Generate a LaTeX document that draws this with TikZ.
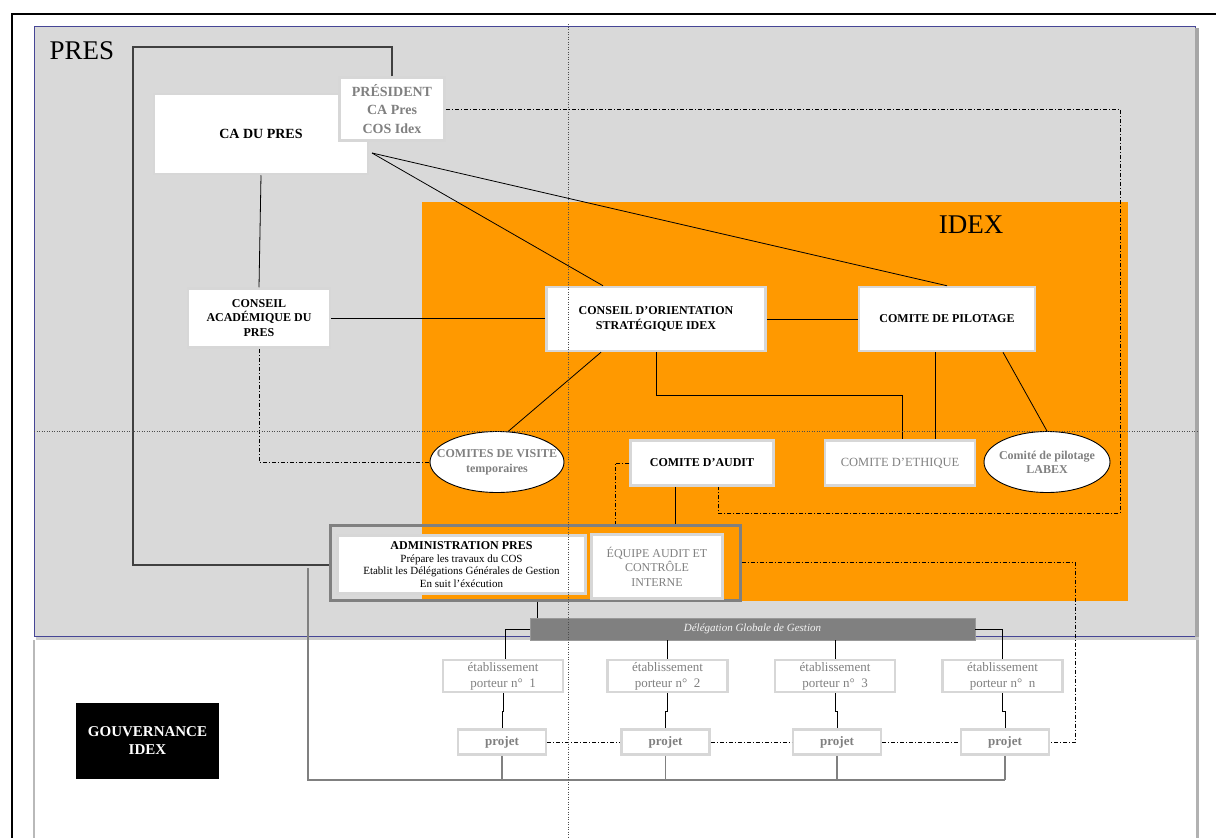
\documentclass[tikz,border=0pt]{standalone}
\usepackage{fontspec}
\setmainfont{Liberation Serif}
\usetikzlibrary{shapes, arrows.meta, positioning}
\definecolor{presgray}{RGB}{217,217,217}
\definecolor{idexorange}{RGB}{255,153,0}
\definecolor{txtgray}{RGB}{128,128,128}
\definecolor{boxline}{RGB}{215,215,215}
\definecolor{frameblue}{RGB}{70,70,150}
\tikzstyle{block} = [draw=boxline, line width=2.5pt, fill=white, rectangle, align=center, inner sep=0pt, font=\bfseries\fontsize{12}{14.5}\selectfont]
\tikzstyle{greyblock} = [block, text=txtgray]
\tikzstyle{oval} = [draw, line width=0.9pt, fill=white, ellipse, align=center, inner sep=0pt, text=txtgray, font=\bfseries\fontsize{12}{15}\selectfont]
\tikzstyle{etab} = [block, text=txtgray, minimum width=120pt, minimum height=32pt, font=\fontsize{13}{16}\selectfont]
\tikzstyle{proj} = [block, text=txtgray, minimum width=88pt, minimum height=25pt, font=\bfseries\fontsize{13}{15}\selectfont]
\tikzstyle{link} = [line width=0.8pt]
\tikzstyle{ctrl} = [line width=0.7pt, dash pattern=on 4pt off 2pt on 1pt off 2pt]
\tikzstyle{graylink} = [gray, line width=1.5pt]
\tikzstyle{guide} = [line width=0.5pt, black!70, dash pattern=on 1pt off 1.5pt]

\begin{document}
\begin{tikzpicture}[>=latex, x=1pt, y=-1pt]
    \useasboundingbox (0,0) rectangle (1216,838);
    \fill[presgray] (34,26) rectangle (1195,636);
    \draw[frameblue, line width=0.8pt] (34,26) rectangle (1195,636);
    \fill[gray!70] (1195,28) rectangle (1199,640);
    \fill[gray!40] (36,637) rectangle (1199,640);
    \draw[gray!55, line width=2.5pt] (34,640) -- (34,838);
    \draw[gray!60, line width=3pt] (1197,640) -- (1197,838);
    \draw[line width=2pt] (12,838) -- (12,14) -- (1216,14);
    \fill[idexorange] (422,202) rectangle (1128,601);

    \node[anchor=base west, font=\fontsize{27}{30}\selectfont] (preslabel) at (46,59) {PRES};
    \node[anchor=base, font=\fontsize{27}{30}\selectfont] (idexlabel) at (971,233) {IDEX};

    \node[block, font=\bfseries\fontsize{14}{16}\selectfont, minimum width=214pt, minimum height=80pt] (ca) at (261,134) {CA DU PRES};
    \node[greyblock, font=\bfseries\fontsize{14}{18.5}\selectfont, minimum width=105pt, minimum height=63pt] (president) at (392,109) {PRÉSIDENT\\CA Pres\\COS Idex};
    \node[block, minimum width=142pt, minimum height=59pt] (acad) at (259,318) {CONSEIL\\ACADÉMIQUE DU\\PRES};
    \node[block, minimum width=219pt, minimum height=64pt, font=\bfseries\fontsize{12}{15}\selectfont] (cos) at (656,319) {CONSEIL D'ORIENTATION\\STRATÉGIQUE IDEX};
    \node[block, minimum width=176pt, minimum height=64pt] (pilot) at (947,319) {COMITE DE PILOTAGE};
    \node[oval, inner xsep=-16pt, minimum width=134pt, minimum height=61pt] (visite) at (497,462) {COMITES DE VISITE\\temporaires};
    \node[block, minimum width=143pt, minimum height=45pt] (audit) at (702,463) {COMITE D’AUDIT};
    \node[greyblock, font=\fontsize{12.5}{15}\selectfont, minimum width=150pt, minimum height=45pt] (ethique) at (900,463) {COMITE D’ETHIQUE};
    \node[oval, inner xsep=-6pt, font=\bfseries\fontsize{12}{14}\selectfont, minimum width=126pt, minimum height=61pt] (labex) at (1047,462) {Comité de pilotage\\LABEX};

    \node[draw=txtgray, line width=3pt, minimum width=410pt, minimum height=75pt] (admin) at (535,562.5) {};
    \node[block, font=\fontsize{11}{12.5}\selectfont, minimum width=248pt, minimum height=58pt] (adminpres) at (461.5,564.5) {{\bfseries\fontsize{12}{14}\selectfont ADMINISTRATION PRES}\\Prépare les travaux du COS\\Etablit les Délégations Générales de Gestion\\En suit l’éxécution};
    \node[greyblock, font=\fontsize{12}{14.5}\selectfont, minimum width=131pt, minimum height=64pt] (equipe) at (657,566.5) {ÉQUIPE AUDIT ET\\CONTRÔLE\\INTERNE};

    \node[fill=txtgray, draw=gray!80, inner sep=0pt, minimum width=445pt, minimum height=22pt, text=white!92!gray, font=\itshape\fontsize{11}{13}\selectfont] (bar) at (752.5,629) {Délégation Globale de Gestion};

    \node[etab] (e1) at (503,676) {établissement\\porteur n°\enspace 1};
    \node[etab, right=42pt of e1] (e2) {établissement\\porteur n°\enspace 2};
    \node[etab, right=45pt of e2] (e3) {établissement\\porteur n°\enspace 3};
    \node[etab, right=45pt of e3] (en) {établissement\\porteur n°\enspace n};
    \node[proj, below=35pt of e1, xshift=-1pt] (p1) {projet};
    \node[proj, below=35pt of e2, xshift=-2pt] (p2) {projet};
    \node[proj, below=35pt of e3, xshift=2pt] (p3) {projet};
    \node[proj, below=35pt of en, xshift=2.5pt] (pn) {projet};

    \node[fill=black, text=white, align=center, inner sep=0pt, minimum width=143pt, minimum height=76pt, font=\bfseries\fontsize{15}{18}\selectfont] (gouv) at (147.5,741) {GOUVERNANCE\\IDEX};

    \coordinate (hub) at (372,153);
    \coordinate (tl) at (133,47);
    \coordinate (bl) at (133,565);
    \coordinate (c1) at (1120,513);
    \coordinate (gtop) at (308,568);
    \coordinate (gbot) at (308,780);

    \draw[link, black!75, line width=1.2pt] (president.north) |- (tl) -- (bl) -- (bl -| admin.west);
    \draw[link] (ca.south) -- (acad.north);
    \draw[link] (hub) -- ([xshift=-53pt]cos.north);
    \draw[link] (hub) -- (pilot.north);
    \draw[link] (acad.east) -- (acad.east -| cos.west);
    \draw[link] (cos.east) -- (pilot.west);
    \draw[link] (cos.south) -- ++(0,43) -| ([xshift=2pt]ethique.north);
    \draw[link] ([xshift=-12pt]pilot.south) -- ([xshift=-12pt]pilot.south |- ethique.north);
    \draw[link] ([xshift=56pt]pilot.south) -- (labex.north);
    \draw[link] ([xshift=-55pt]cos.south) -- (visite.70);
    \draw[ctrl] (acad.south) |- (visite.west);
    \draw[ctrl] (president.east) -| (c1) -| ([xshift=16pt]audit.south);
    \draw[ctrl] (audit.west) -| ([xshift=80pt]admin.north);
    \draw[link] ([xshift=-27pt]audit.south) -- ([xshift=-27pt]audit.south |- admin.north);
    \draw[ctrl] (admin.east) -- ++(334,0) |- (pn.east);
    \draw[link] ([xshift=2pt]admin.south) -- ([xshift=2pt]admin.south |- bar.north);
    \draw[link] (bar.west) -| ([xshift=2pt]e1.north);
    \draw[link] (bar.south -| e2.north) -- (e2.north);
    \draw[link] (bar.south -| e3.north) -- (e3.north);
    \draw[link] (bar.east) -| (en.north);
    \draw[link] (e1.south) -- ++(0,18) -| (p1.north);
    \draw[link] (e2.south) -- ++(0,18) -| (p2.north);
    \draw[link] (e3.south) -- ++(0,18) -| (p3.north);
    \draw[link] (en.south) -- ++(0,18) -| (pn.north);
    \draw[ctrl] (p1.east) -- (p2.west);
    \draw[ctrl] (p2.east) -- (p3.west);
    \draw[ctrl] (p3.east) -- (pn.west);
    \draw[graylink] (gtop) -- (gbot) -- (gbot -| pn.south);
    \draw[graylink] (p1.south) -- (p1.south |- gbot);
    \draw[graylink] (p2.south) -- (p2.south |- gbot);
    \draw[graylink] (p3.south) -- (p3.south |- gbot);
    \draw[graylink] (pn.south) -- (pn.south |- gbot);

    \draw[guide] (568,24) -- (568,838);
    \draw[guide] (34,431) -- (1197,431);
\end{tikzpicture}
\end{document}
